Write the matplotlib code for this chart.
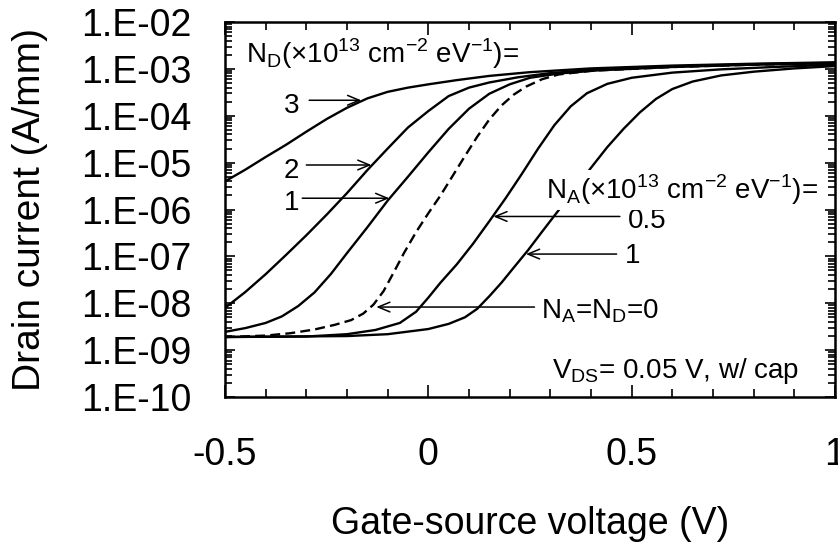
import matplotlib
matplotlib.use('Agg')
import matplotlib.pyplot as plt
from matplotlib.ticker import FixedLocator, LogLocator, NullFormatter

plt.rcParams['font.family'] = ['Liberation Sans', 'DejaVu Sans']
plt.rcParams['mathtext.fontset'] = 'custom'
plt.rcParams['mathtext.rm'] = 'Liberation Sans'

# gate voltage (V) and log10 of drain current (A/mm)
v_nd3 = [-0.5, -0.45, -0.40, -0.35, -0.30, -0.25, -0.20, -0.15, -0.10, -0.05, 0.0, 0.07, 0.15,
         0.25, 0.4, 0.6, 0.8, 1.0]
lg_nd3 = [-5.40, -5.15, -4.88, -4.62, -4.34, -4.07, -3.83, -3.63, -3.49, -3.40, -3.33, -3.24, -3.15,
          -3.07, -2.99, -2.93, -2.89, -2.86]

v_nd2 = [-0.5, -0.45, -0.40, -0.35, -0.30, -0.25, -0.20, -0.15, -0.10, -0.05, 0.0, 0.05, 0.10, 0.15,
         0.22, 0.30, 0.42, 0.6, 0.8, 1.0]
lg_nd2 = [-8.10, -7.76, -7.38, -6.97, -6.55, -6.11, -5.65, -5.16, -4.70, -4.25, -3.90, -3.58, -3.40,
          -3.29, -3.18, -3.09, -3.01, -2.95, -2.90, -2.87]

v_nd1 = [-0.5, -0.45, -0.40, -0.36, -0.32, -0.28, -0.24, -0.20, -0.15, -0.10, -0.05, 0.0, 0.05, 0.10,
         0.15, 0.20, 0.25, 0.32, 0.42, 0.6, 0.8, 1.0]
lg_nd1 = [-8.61, -8.53, -8.42, -8.28, -8.06, -7.77, -7.38, -6.93, -6.38, -5.81, -5.30, -4.78, -4.28,
          -3.85, -3.53, -3.33, -3.19, -3.10, -3.03, -2.96, -2.91, -2.88]

v_zero = [-0.5, -0.4, -0.34, -0.28, -0.23, -0.19, -0.16, -0.135, -0.11, -0.085, -0.06, -0.03, 0.0,
          0.03, 0.06, 0.09, 0.12, 0.15, 0.18, 0.21, 0.24, 0.28, 0.32, 0.4, 0.6, 0.8, 1.0]
lg_zero = [-8.72, -8.69, -8.64, -8.56, -8.46, -8.36, -8.22, -8.03, -7.74, -7.34, -6.93, -6.48, -6.08,
           -5.70, -5.28, -4.86, -4.45, -4.08, -3.78, -3.55, -3.38, -3.22, -3.12, -3.04, -2.96, -2.91,
           -2.88]

v_na05 = [-0.5, -0.3, -0.2, -0.13, -0.07, -0.03, 0.0, 0.03, 0.07, 0.11, 0.15, 0.19, 0.23, 0.27, 0.31,
          0.35, 0.39, 0.44, 0.5, 0.6, 0.72, 0.85, 1.0]
lg_na05 = [-8.72, -8.71, -8.66, -8.57, -8.42, -8.18, -7.88, -7.56, -7.17, -6.73, -6.25, -5.76, -5.24,
           -4.70, -4.20, -3.80, -3.52, -3.32, -3.19, -3.08, -3.01, -2.96, -2.91]

v_na1 = [-0.5, -0.2, -0.1, 0.0, 0.05, 0.09, 0.12, 0.15, 0.18, 0.21, 0.245, 0.28, 0.32, 0.36, 0.40,
         0.44, 0.48, 0.52, 0.56, 0.60, 0.65, 0.72, 0.8, 0.9, 1.0]
lg_na1 = [-8.72, -8.70, -8.66, -8.55, -8.44, -8.30, -8.12, -7.85, -7.56, -7.24, -6.87, -6.47, -6.02,
          -5.57, -5.11, -4.67, -4.28, -3.93, -3.64, -3.43, -3.27, -3.14, -3.06, -2.99, -2.94]

x_ticks = [-0.5, 0, 0.5, 1]
x_tick_labels = ['-0.5', '0', '0.5', '1']
x_minor = [-0.4, -0.3, -0.2, -0.1, 0.1, 0.2, 0.3, 0.4, 0.6, 0.7, 0.8, 0.9]
y_ticks = [1e-10, 1e-9, 1e-8, 1e-7, 1e-6, 1e-5, 1e-4, 1e-3, 1e-2]
y_tick_labels = ['1.E-10', '1.E-09', '1.E-08', '1.E-07', '1.E-06', '1.E-05', '1.E-04', '1.E-03', '1.E-02']

fig = plt.figure(figsize=(8.38, 5.49), dpi=100)
ax = fig.add_axes([225 / 838, 1 - 397 / 549, 610 / 838, 375 / 549])

lw = 1.7
for v, lg in [(v_nd3, lg_nd3), (v_nd2, lg_nd2), (v_nd1, lg_nd1), (v_na05, lg_na05), (v_na1, lg_na1)]:
    ax.plot(v, [10 ** g for g in lg], color='black', lw=lw, solid_joinstyle='round')
ax.plot(v_zero, [10 ** g for g in lg_zero], color='black', lw=lw, linestyle=(0, (4.2, 2.2)))

ax.set_yscale('log')
ax.set_xlim(-0.5, 1.0)
ax.set_ylim(1e-10, 1e-2)

ax.xaxis.set_major_locator(FixedLocator(x_ticks))
ax.set_xticklabels(x_tick_labels)
ax.xaxis.set_minor_locator(FixedLocator(x_minor))
ax.yaxis.set_major_locator(FixedLocator(y_ticks))
ax.set_yticklabels(y_tick_labels)
ax.yaxis.set_minor_locator(LogLocator(base=10, subs=range(2, 10), numticks=20))
ax.yaxis.set_minor_formatter(NullFormatter())

ax.tick_params(which='both', direction='in', top=True, right=True, width=1.2)
ax.tick_params(axis='x', which='major', length=9, labelsize=27, pad=29)
ax.tick_params(axis='x', which='minor', length=6)
ax.tick_params(axis='y', which='major', length=7, labelsize=27, pad=24)
ax.tick_params(axis='y', which='minor', length=5)
for s in ax.spines.values():
    s.set_linewidth(1.8)

ax.set_xlabel('Gate-source voltage (V)', fontsize=27)
ax.set_ylabel('Drain current (A/mm)', fontsize=28)
ax.xaxis.set_label_coords(0.5, (397 - 524) / 375)
ax.xaxis.label.set_va('center')
ax.yaxis.set_label_coords((30 - 225) / 610, 0.5)
ax.yaxis.label.set_va('center')

fs = 20
ax.text(-0.448, 10 ** -2.88, r'N$_\mathregular{D}$(×10$^\mathregular{13}$ cm$^\mathregular{-2}$ eV$^\mathregular{-1}$)=',
        fontsize=fs, ha='left', va='baseline')
ax.text(-0.337, 10 ** -3.94, '3', fontsize=fs, ha='center', va='baseline')
ax.text(-0.337, 10 ** -5.33, '2', fontsize=fs, ha='center', va='baseline')
ax.text(-0.337, 10 ** -6.01, '1', fontsize=fs, ha='center', va='baseline')
ax.text(0.29, 10 ** -5.78, r'N$_\mathregular{A}$(×10$^\mathregular{13}$ cm$^\mathregular{-2}$ eV$^\mathregular{-1}$)=',
        fontsize=fs, ha='left', va='baseline', zorder=5,
        bbox=dict(facecolor='white', edgecolor='none', pad=2))
ax.text(0.49, 10 ** -6.40, '0.5', fontsize=fs, ha='left', va='baseline')
ax.text(0.502, 10 ** -7.14, '1', fontsize=fs, ha='center', va='baseline')
ax.text(0.278, 10 ** -8.32, r'N$_\mathregular{A}$=N$_\mathregular{D}$=0', fontsize=fs, ha='left', va='baseline')
ax.text(0.305, 10 ** -9.595, r'V$_\mathregular{DS}$= 0.05 V, w/ cap', fontsize=fs, ha='left', va='baseline')

arrows = [((-0.293, 2.14e-4), (-0.165, 2.14e-4)),
          ((-0.30, 8.9e-6), (-0.140, 8.9e-6)),
          ((-0.31, 1.74e-6), (-0.096, 1.74e-6)),
          ((0.471, 7.1e-7), (0.16, 7.1e-7)),
          ((0.463, 1.12e-7), (0.24, 1.12e-7)),
          ((0.261, 8.3e-9), (-0.128, 8.3e-9))]
for tail, tip in arrows:
    ax.annotate('', xy=tip, xytext=tail,
                arrowprops=dict(arrowstyle='->,head_length=0.6,head_width=0.25', lw=1.1,
                                color='black', shrinkA=0, shrinkB=0, mutation_scale=14))

fig.savefig('out.png', dpi=100)
